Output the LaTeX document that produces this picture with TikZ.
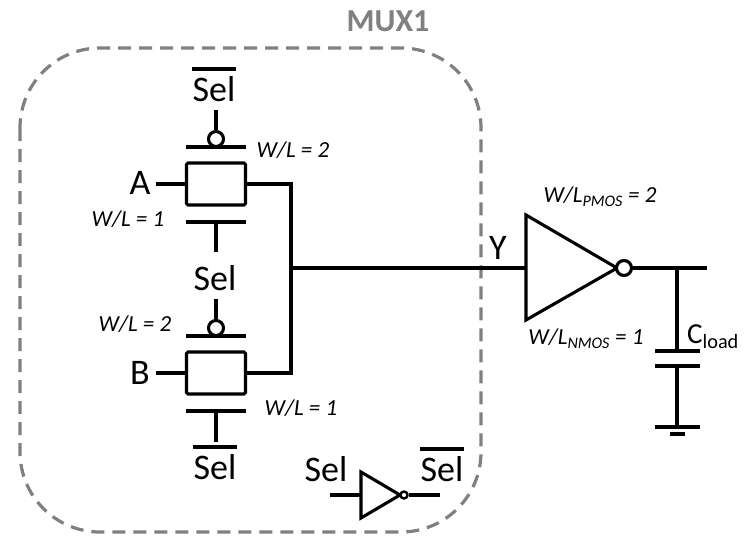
\documentclass[tikz,border=0pt]{standalone}
\usepackage{fontspec}
\setmainfont{Carlito}
\tikzset{
 wire/.style={line width=3.1pt},
 gatebox/.style={draw,line width=3.1pt,rounded corners=1.5pt,minimum width=59pt,minimum height=42pt,inner sep=0pt},
 bubble/.style={draw,circle,line width=3.1pt,inner sep=0pt,fill=white},
 biglabel/.style={inner sep=0pt,font=\fontsize{36}{36}\selectfont},
 sizelabel/.style={inner sep=0pt,font=\fontsize{23}{23}\selectfont\itshape},
}
\begin{document}
\begin{tikzpicture}[x=1pt,y=-1pt]
 		\useasboundingbox (0,0) rectangle (747,557);
 		\draw[black!50,line width=3.2pt,dash pattern=on 13pt off 8pt,rounded corners=80pt] (20,48) rectangle (481,532);
 		\node[inner sep=0pt,text=black!50,font=\fontsize{32}{32}\selectfont\bfseries] (muxname) at (388,21) {MUX1};
 		\foreach \j/\yy in {A/184, B/373}
 				{\node[gatebox] (gate\j) at (216,\yy) {};
 				\coordinate (in\j) at (156,\yy);
 				\coordinate (out\j) at (291,\yy);
 				\coordinate (ptop\j) at (186,\yy-37);
 				\coordinate (qtop\j) at (246,\yy-37);
 				\coordinate (pbot\j) at (186,\yy+38);
 				\coordinate (qbot\j) at (246,\yy+38);
 				\coordinate (nstem\j) at (216,\yy+38);
 				\node[bubble,minimum size=15pt] (bub\j) at (216,\yy-45) {};
 				\draw[wire] (in\j) -- (gate\j.west);
 				\draw[wire] (gate\j.east) -- (out\j);
 				\draw[wire] (ptop\j) -- (qtop\j);
 				\draw[wire] (pbot\j) -- (qbot\j);}
 		\node[biglabel] (labA) at (140,183) {A};
 		\node[biglabel] (labB) at (140,373) {B};
 		\coordinate (ctlA) at (216,110);
 		\coordinate (ctlAn) at (216,252);
 		\coordinate (ctlB) at (216,299);
 		\coordinate (ctlBn) at (216,442);
 		\draw[wire] (ctlA) -- (bubA.north);
 		\draw[wire] (nstemA) -- (ctlAn);
 		\draw[wire] (ctlB) -- (bubB.north);
 		\draw[wire] (nstemB) -- (ctlBn);
 		\coordinate (join) at (291,268);
 		\coordinate (invin) at (526,268);
 		\draw[wire,line cap=rect] (outA) -- (outB);
 		\draw[wire] (join) -- (invin);
 		\foreach \j/\xx/\yy in {selA/214/89, selB/215/467, selC/442/469}
 				{\node[biglabel] (\j) at (\xx,\yy) {Sel};
 				\draw[line width=3.1pt] (\xx-22,\yy-20) -- (\xx+22,\yy-20);}
 		\node[biglabel] (selD) at (215,278) {Sel};
 		\node[biglabel] (selE) at (326,469) {Sel};
 		\node[biglabel] (laby) at (498,248) {Y};
 		\node[sizelabel] (wlA) at (293,150) {W/L = 2};
 		\node[sizelabel] (wlB) at (128,219) {W/L = 1};
 		\node[sizelabel] (wlC) at (135,324) {W/L = 2};
 		\node[sizelabel] (wlD) at (301,408) {W/L = 1};
 		\node[sizelabel] (wlP) at (600,197) {W/L\textsubscript{PMOS} = 2};
 		\node[sizelabel] (wlN) at (586,339) {W/L\textsubscript{NMOS} = 1};
 		\draw[wire,line join=miter] (invin) -- (526,215) -- (617,268) -- (526,320) -- cycle;
 		\node[bubble,minimum size=15pt] (bubY) at (624,268) {};
 		\coordinate (outY) at (707,268);
 		\coordinate (capin) at (677,268);
 		\coordinate (capup) at (677,351);
 		\coordinate (capdn) at (677,366);
 		\coordinate (gnd) at (677,427);
 		\draw[wire] (bubY.east) -- (outY);
 		\draw[wire] (capin) -- (capup);
 		\draw[wire] (capdn) -- (gnd);
 		\foreach \yy in {351,366,427}
 				{\draw[wire] (655,\yy) -- (700,\yy);}
 		\draw[wire] (670,434) -- (685,434);
 		\node[inner sep=0pt,anchor=base west,font=\fontsize{29}{29}\selectfont] (cload) at (687,343) {C\textsubscript{load}};
 		\coordinate (smallin) at (330,495);
 		\coordinate (smallout) at (440,495);
 		\draw[wire,line join=miter] (361,472) -- (400,495) -- (361,518) -- cycle;
 		\node[bubble,minimum size=7pt,line width=2.4pt] (bubS) at (404,495) {};
 		\draw[wire] (smallin) -- (361,495);
 		\draw[wire] (bubS.east) -- (smallout);
\end{tikzpicture}
\end{document}
